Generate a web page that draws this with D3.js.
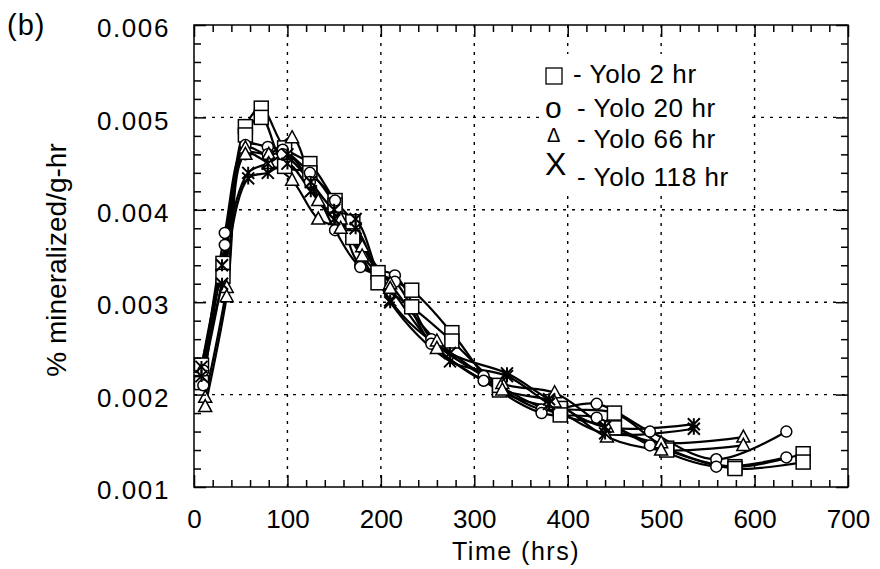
<!DOCTYPE html>
<html>
<head>
<meta charset="utf-8">
<script src="https://cdn.jsdelivr.net/npm/d3@7"></script>
<style>
  html, body { margin: 0; padding: 0; background: #fff; }
  svg { display: block; }
  text { font-family: "Liberation Sans", Arial, Helvetica, sans-serif; fill: #000; }
</style>
</head>
<body>
<svg id="chart" width="880" height="569"></svg>
<script>
// ---------------- DATA ----------------
const xTickValues = [0, 100, 200, 300, 400, 500, 600, 700];
const yTickValues = [0.001, 0.002, 0.003, 0.004, 0.005, 0.006];
const yTickLabels = ["0.001", "0.002", "0.003", "0.004", "0.005", "0.006"];
const legendLabels = ["- Yolo 2 hr", "- Yolo 20 hr", "- Yolo 66 hr", "- Yolo 118 hr"];

// Yolo 2 hr (squares), two replicates
const timesYolo2 = [8, 31, 55, 72, 97, 124, 151, 170, 197, 233, 276, 327, 392, 450, 506, 579, 652];
const yolo2A = [0.00232, 0.00342, 0.00490, 0.00510, 0.00467, 0.00450, 0.00410, 0.00387, 0.00332, 0.00313, 0.00267, 0.00205, 0.00185, 0.00180, 0.00142, 0.00122, 0.00136];
const yolo2B = [0.00213, 0.00328, 0.00481, 0.00500, 0.00447, 0.00440, 0.00405, 0.00370, 0.00321, 0.00295, 0.00258, 0.00210, 0.00178, 0.00164, 0.00140, 0.00120, 0.00127];

// Yolo 20 hr (circles), two replicates
const timesYolo20 = [10, 33, 55, 79, 95, 124, 151, 178, 215, 254, 310, 372, 431, 488, 559, 634];
const yolo20A = [0.00226, 0.00375, 0.00470, 0.00468, 0.00465, 0.00440, 0.00410, 0.00340, 0.00329, 0.00260, 0.00220, 0.00184, 0.00190, 0.00160, 0.00130, 0.00160];
const yolo20B = [0.00210, 0.00362, 0.00460, 0.00460, 0.00460, 0.00430, 0.00378, 0.00338, 0.00322, 0.00255, 0.00215, 0.00180, 0.00175, 0.00145, 0.00122, 0.00132];

// Yolo 66 hr (triangles), two replicates
const timesYolo66 = [12, 35, 55, 80, 105, 133, 157, 180, 210, 260, 330, 386, 442, 500, 588];
const yolo66A = [0.00197, 0.00316, 0.00467, 0.00460, 0.00478, 0.00410, 0.00390, 0.00360, 0.00320, 0.00258, 0.00212, 0.00202, 0.00165, 0.00148, 0.00154];
const yolo66B = [0.00187, 0.00306, 0.00460, 0.00450, 0.00432, 0.00390, 0.00380, 0.00350, 0.00315, 0.00250, 0.00205, 0.00192, 0.00154, 0.00140, 0.00145];

// Yolo 118 hr (X), two replicates
const timesYolo118 = [8, 30, 58, 79, 100, 125, 150, 173, 210, 274, 335, 380, 440, 535];
const yolo118A = [0.00230, 0.00340, 0.00440, 0.00450, 0.00460, 0.00430, 0.00400, 0.00390, 0.00302, 0.00245, 0.00223, 0.00195, 0.00165, 0.00168];
const yolo118B = [0.00220, 0.00320, 0.00434, 0.00440, 0.00450, 0.00420, 0.00390, 0.00380, 0.00300, 0.00236, 0.00220, 0.00190, 0.00158, 0.00163];

// ---------------- CHART ----------------
const svg = d3.select("#chart");
const x = d3.scaleLinear().domain([0, 700]).range([194, 848]);
const y = d3.scaleLinear().domain([0.001, 0.006]).range([487, 25]);

const series = [
  { times: timesYolo2, reps: [yolo2A, yolo2B], marker: "square" },
  { times: timesYolo20, reps: [yolo20A, yolo20B], marker: "circle" },
  { times: timesYolo66, reps: [yolo66A, yolo66B], marker: "triangle" },
  { times: timesYolo118, reps: [yolo118A, yolo118B], marker: "x" }
];

// grid
const gridX = xTickValues.filter(v => v > 0 && v < 700);
const gridY = yTickValues.filter(v => v > 0.001 && v < 0.006);
const grid = svg.append("g").attr("stroke", "#000").attr("stroke-width", 1.4).attr("stroke-dasharray", "3,6");
grid.selectAll("line.gx").data(gridX).join("line").attr("class", "gx")
  .attr("x1", d => x(d)).attr("x2", d => x(d)).attr("y1", y(0.006)).attr("y2", y(0.001));
grid.selectAll("line.gy").data(gridY).join("line").attr("class", "gy")
  .attr("y1", d => y(d)).attr("y2", d => y(d)).attr("x1", x(0)).attr("x2", x(700));

// legend background box (hides grid behind legend)
svg.append("rect").attr("x", 540).attr("y", 54).attr("width", 207).attr("height", 138).attr("fill", "#fff");

// lines
const line = d3.line().x(d => x(d[0])).y(d => y(d[1])).curve(d3.curveCatmullRom.alpha(0.5));
const lineG = svg.append("g").attr("fill", "none").attr("stroke", "#000").attr("stroke-width", 2.2);
series.forEach(s => {
  s.reps.forEach(r => {
    const pts = s.times.map((t, i) => [t, r[i]]);
    lineG.append("path").attr("d", line(pts));
  });
});

// markers
const markG = svg.append("g");
function drawMarker(g, type, cx, cy) {
  if (type === "square") {
    g.append("rect").attr("x", cx - 7).attr("y", cy - 7).attr("width", 14).attr("height", 14)
      .attr("fill", "#fff").attr("stroke", "#000").attr("stroke-width", 1.5);
  } else if (type === "circle") {
    g.append("circle").attr("cx", cx).attr("cy", cy).attr("r", 5.5)
      .attr("fill", "#fff").attr("stroke", "#000").attr("stroke-width", 1.5);
  } else if (type === "triangle") {
    g.append("path").attr("d", `M${cx},${cy - 7}L${cx + 6.5},${cy + 5}L${cx - 6.5},${cy + 5}Z`)
      .attr("fill", "#fff").attr("stroke", "#000").attr("stroke-width", 1.5);
  } else {
    g.append("path").attr("d", `M${cx - 6},${cy - 6}L${cx + 6},${cy + 6}M${cx - 6},${cy + 6}L${cx + 6},${cy - 6}M${cx},${cy - 6}L${cx},${cy + 6}`)
      .attr("fill", "none").attr("stroke", "#000").attr("stroke-width", 2);
  }
}
series.forEach(s => {
  s.reps.forEach(r => {
    s.times.forEach((t, i) => drawMarker(markG, s.marker, x(t), y(r[i])));
  });
});

// frame
svg.append("rect").attr("x", x(0)).attr("y", y(0.006)).attr("width", x(700) - x(0)).attr("height", y(0.001) - y(0.006))
  .attr("fill", "none").attr("stroke", "#000").attr("stroke-width", 1.5);

// ticks
const xMinor = d3.range(0, 701, 20).filter(v => v % 100 !== 0);
const yMinor = d3.range(10, 60, 2).map(v => v / 10000).filter(v => Math.round(v * 10000) % 10 !== 0);

function styleAxis(g) {
  g.select(".domain").remove();
  g.selectAll(".tick line").attr("stroke", "#000").attr("stroke-width", 1.5);
}

svg.append("g").attr("transform", `translate(0,${y(0.001)})`)
  .call(d3.axisBottom(x).tickValues(xTickValues).tickSize(-12).tickPadding(23).tickFormat(d3.format("d")))
  .call(styleAxis)
  .call(g => g.selectAll("text").attr("font-size", 26).attr("font-family", "Liberation Sans, Arial, sans-serif"));
svg.append("g").attr("transform", `translate(0,${y(0.001)})`)
  .call(d3.axisBottom(x).tickValues(xMinor).tickSize(-7).tickFormat(""))
  .call(styleAxis);
svg.append("g").attr("transform", `translate(0,${y(0.006)})`)
  .call(d3.axisTop(x).tickValues(xTickValues).tickSize(-12).tickFormat(""))
  .call(styleAxis);
svg.append("g").attr("transform", `translate(0,${y(0.006)})`)
  .call(d3.axisTop(x).tickValues(xMinor).tickSize(-7).tickFormat(""))
  .call(styleAxis);

svg.append("g").attr("transform", `translate(${x(0)},0)`)
  .call(d3.axisLeft(y).tickValues(yTickValues).tickSize(-12).tickPadding(24).tickFormat((d, i) => yTickLabels[i]))
  .call(styleAxis)
  .call(g => g.selectAll("text").attr("font-size", 26).attr("letter-spacing", 1.6).attr("dy", "0.45em"));
svg.append("g").attr("transform", `translate(${x(0)},0)`)
  .call(d3.axisLeft(y).tickValues(yMinor).tickSize(-7).tickFormat(""))
  .call(styleAxis);
svg.append("g").attr("transform", `translate(${x(700)},0)`)
  .call(d3.axisRight(y).tickValues(yTickValues).tickSize(-12).tickFormat(""))
  .call(styleAxis);
svg.append("g").attr("transform", `translate(${x(700)},0)`)
  .call(d3.axisRight(y).tickValues(yMinor).tickSize(-7).tickFormat(""))
  .call(styleAxis);

// axis titles
svg.append("text").attr("x", 516).attr("y", 560).attr("text-anchor", "middle")
  .attr("font-size", 25).attr("letter-spacing", 1.5).text("Time (hrs)");
svg.append("text").attr("transform", "translate(66,260) rotate(-90)").attr("text-anchor", "middle")
  .attr("font-size", 28).text("% mineralized/g-hr");
svg.append("text").attr("x", 7).attr("y", 35).attr("font-size", 29).attr("letter-spacing", 1).text("(b)");

// legend
const legY = [83, 117, 148, 186];
const legSym = svg.append("g");
legSym.append("rect").attr("x", 546).attr("y", 68).attr("width", 16).attr("height", 16)
  .attr("fill", "none").attr("stroke", "#000").attr("stroke-width", 1.3);
legSym.append("text").attr("x", 545).attr("y", 118).attr("font-size", 30).text("o");
legSym.append("text").attr("x", 547).attr("y", 142).attr("font-size", 20).text("Δ");
legSym.append("text").attr("x", 545).attr("y", 175).attr("font-size", 32).text("X");
svg.append("g").selectAll("text").data(legendLabels).join("text")
  .attr("x", (d, i) => i === 0 ? 573 : 577)
  .attr("y", (d, i) => legY[i])
  .attr("font-size", 26).attr("letter-spacing", 0.6)
  .text(d => d);
</script>
</body>
</html>
